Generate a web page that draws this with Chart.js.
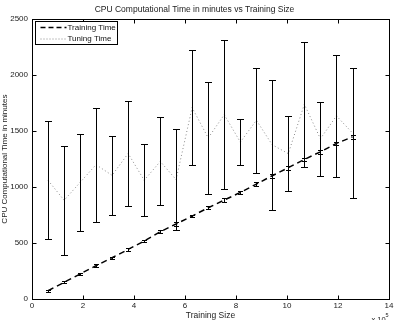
<!DOCTYPE html>
<html>
<head>
<meta charset="utf-8">
<script src="https://cdn.jsdelivr.net/npm/chart.js@4/dist/chart.umd.min.js"></script>
<style>
  html, body { margin: 0; padding: 0; background: #fff; }
  #wrap { width: 400px; height: 320px; }
</style>
</head>
<body>
<div id="wrap"><canvas id="cpuChart" width="400" height="320"></canvas></div>
<script>
// training size in units of 10^5
const trainingSize = [0.63, 1.26, 1.88, 2.51, 3.14, 3.77, 4.40, 5.03, 5.65, 6.28,
  6.91, 7.54, 8.17, 8.80, 9.42, 10.05, 10.68, 11.31, 11.94, 12.57]

const trainingTime = [74, 149, 223, 297, 369, 443, 518, 601, 670, 741,
  815, 884, 952, 1027, 1101, 1173, 1247, 1315, 1390, 1449]
const trainingErr = [8, 10, 10, 12, 10, 12, 10, 12, 14, 12,
  12, 14, 12, 14, 16, 16, 14, 16, 16, 18]

const tuningTime = [1060, 882, 1040, 1200, 1105, 1300, 1061, 1229, 1067, 1710,
  1439, 1647, 1402, 1597, 1378, 1299, 1740, 1432, 1636, 1483]
const tuningErr = [527, 486, 436, 511, 350, 470, 320, 393, 451, 513,
  504, 668, 208, 469, 583, 332, 560, 330, 546, 583]

const xTicks = [0, 2, 4, 6, 8, 10, 12, 14]
const yTicks = [0, 500, 1000, 1500, 2000, 2500]

const FONT = "'Liberation Sans', Arial, Helvetica, sans-serif"

function toPoints(ys) {
  return trainingSize.map((x, i) => ({ x: x, y: ys[i] }))
}

// error bars, box, inward ticks, legend and the x10^5 note
const matlabLook = {
  id: 'matlabLook',
  afterDatasetsDraw(chart) {
    const { ctx, chartArea: a, scales } = chart
    const xs = scales.x, ys = scales.y

    const drawBars = (vals, errs, cap) => {
      ctx.save()
      ctx.strokeStyle = '#000'
      ctx.lineWidth = 1
      vals.forEach((v, i) => {
        const px = Math.round(xs.getPixelForValue(trainingSize[i])) + 0.5
        const top = Math.round(ys.getPixelForValue(v + errs[i])) + 0.5
        const bot = Math.round(ys.getPixelForValue(v - errs[i])) + 0.5
        ctx.beginPath()
        ctx.moveTo(px, top); ctx.lineTo(px, bot)
        ctx.moveTo(px - cap, top); ctx.lineTo(px + cap, top)
        ctx.moveTo(px - cap, bot); ctx.lineTo(px + cap, bot)
        ctx.stroke()
      })
      ctx.restore()
    }
    drawBars(tuningTime, tuningErr, 3.5)
    drawBars(trainingTime, trainingErr, 2.5)

    // frame + ticks pointing inward on all four sides
    ctx.save()
    ctx.strokeStyle = '#000'
    ctx.lineWidth = 1
    const L = Math.round(a.left) + 0.5, R = Math.round(a.right) + 0.5
    const T = Math.round(a.top) + 0.5, B = Math.round(a.bottom) + 0.5
    ctx.strokeRect(L, T, R - L, B - T)
    ctx.beginPath()
    xTicks.forEach(t => {
      const px = Math.round(xs.getPixelForValue(t)) + 0.5
      ctx.moveTo(px, B); ctx.lineTo(px, B - 4)
      ctx.moveTo(px, T); ctx.lineTo(px, T + 4)
    })
    yTicks.forEach(t => {
      const py = Math.round(ys.getPixelForValue(t)) + 0.5
      ctx.moveTo(L, py); ctx.lineTo(L + 4, py)
      ctx.moveTo(R, py); ctx.lineTo(R - 4, py)
    })
    ctx.stroke()

    // legend box in the upper-left corner
    const bx = L + 3, by = T + 2
    ctx.font = '8px ' + FONT
    const labels = ['Training Time', 'Tuning Time']
    const textX = bx + 32
    const w = Math.max(...labels.map(s => ctx.measureText(s).width))
    const bw = Math.round(textX + w + 2 - bx), bh = 23
    ctx.fillStyle = '#fff'
    ctx.fillRect(bx, by, bw, bh)
    ctx.lineWidth = 1
    ctx.strokeRect(bx, by, bw, bh)
    const rows = [by + 6, by + 17]
    ctx.textBaseline = 'middle'
    ctx.fillStyle = '#111'
    labels.forEach((s, i) => ctx.fillText(s, textX, rows[i]))
    ctx.beginPath()
    ctx.strokeStyle = '#000'
    ctx.lineWidth = 1.5
    ctx.setLineDash([5, 3])
    ctx.moveTo(bx + 5, rows[0]); ctx.lineTo(textX - 1, rows[0])
    ctx.stroke()
    ctx.beginPath()
    ctx.strokeStyle = '#888'
    ctx.lineWidth = 1
    ctx.setLineDash([1, 2])
    ctx.moveTo(bx + 5, rows[1] + 0.5); ctx.lineTo(textX - 1, rows[1] + 0.5)
    ctx.stroke()
    ctx.setLineDash([])

    // exponent note under the right end of the x axis
    ctx.fillStyle = '#222'
    ctx.textBaseline = 'alphabetic'
    ctx.font = '7.5px ' + FONT
    ctx.fillText('x 10', R - 18, 322)
    ctx.font = '5.5px ' + FONT
    ctx.fillText('5', R - 4, 317)
    ctx.restore()
  }
}

const ctx = document.getElementById('cpuChart').getContext('2d')

new Chart(ctx, {
  type: 'line',
  data: {
    datasets: [
      {
        label: 'Training Time',
        data: toPoints(trainingTime),
        borderColor: '#000',
        borderWidth: 1.5,
        borderDash: [6, 4],
        pointRadius: 0,
        tension: 0
      },
      {
        label: 'Tuning Time',
        data: toPoints(tuningTime),
        borderColor: '#888',
        borderWidth: 1,
        borderDash: [1, 2.5],
        pointRadius: 0,
        tension: 0
      }
    ]
  },
  plugins: [matlabLook],
  options: {
    responsive: false,
    animation: false,
    layout: { padding: { top: 0, right: 11, left: 0, bottom: 0 } },
    scales: {
      x: {
        type: 'linear',
        min: 0,
        max: 14,
        afterBuildTicks: s => { s.ticks = xTicks.map(v => ({ value: v })) },
        afterFit: s => { s.height = 21 },
        grid: { display: false, drawTicks: false },
        border: { display: false },
        ticks: { font: { family: FONT, size: 8 }, color: '#222', padding: 2, maxRotation: 0 },
        title: {
          display: true,
          text: 'Training Size',
          font: { family: FONT, size: 8.5 },
          color: '#222',
          padding: { top: 0, bottom: -1 }
        }
      },
      y: {
        min: 0,
        max: 2500,
        afterBuildTicks: s => { s.ticks = yTicks.map(v => ({ value: v })) },
        afterFit: s => { s.width = 32 },
        grid: { display: false, drawTicks: false },
        border: { display: false },
        ticks: {
          font: { family: FONT, size: 8 },
          color: '#222',
          padding: 4,
          callback: v => String(v)
        },
        title: {
          display: true,
          text: 'CPU Computational Time in minutes',
          font: { family: FONT, size: 8 },
          color: '#222',
          padding: { top: 0, bottom: 0 }
        }
      }
    },
    plugins: {
      legend: { display: false },
      tooltip: { enabled: false },
      title: {
        display: true,
        text: 'CPU Computational Time in minutes vs Training Size',
        font: { family: FONT, size: 8.5, weight: 'normal' },
        color: '#222',
        padding: { top: 5, bottom: 4 }
      }
    }
  }
})
</script>
</body>
</html>
